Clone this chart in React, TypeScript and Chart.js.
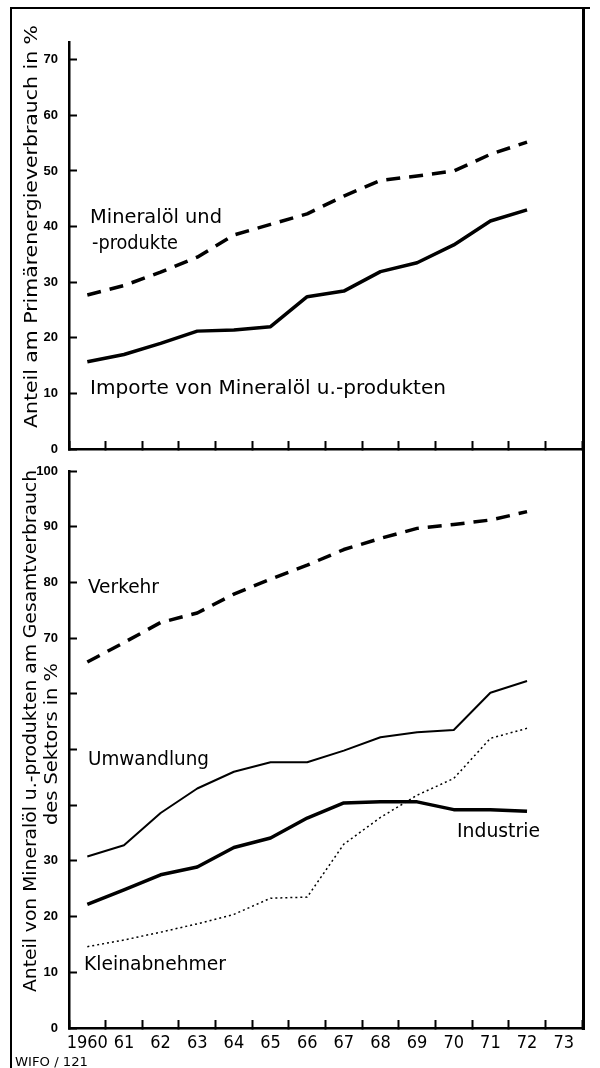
import React, { useEffect, useRef } from "react";
import { Chart, registerables } from "chart.js";

Chart.register(...registerables);

// ---------- data ----------
const YEAR_LABELS = ["1960", "61", "62", "63", "64", "65", "66", "67", "68", "69", "70", "71", "72", "73"];
const TOP_Y_TICKS = [0, 10, 20, 30, 40, 50, 60, 70];
const BOTTOM_Y_TICKS = [0, 10, 20, 30, 40, 50, 60, 70, 80, 90, 100];
// labels hidden under the second line of the lower axis title
const BOTTOM_Y_HIDDEN_LABELS = [40, 50, 60];

// upper panel: Anteil am Primärenergieverbrauch in %
const mineraloelUndProdukte = [27.7, 29.4, 31.8, 34.5, 38.5, 40.4, 42.3, 45.5, 48.3, 49.1, 50.0, 53.0, 55.2];
const importeMineraloel = [15.7, 17.0, 19.0, 21.2, 21.4, 22.0, 27.4, 28.4, 31.9, 33.5, 36.7, 41.0, 43.0];

// lower panel: Anteil am Gesamtverbrauch des Sektors in %
const verkehr = [65.7, 69.2, 72.8, 74.5, 77.9, 80.6, 83.1, 85.9, 87.9, 89.7, 90.4, 91.2, 92.7];
const umwandlung = [30.8, 32.8, 38.6, 43.0, 46.0, 47.7, 47.7, 49.8, 52.2, 53.1, 53.5, 60.2, 62.3];
const industrie = [22.2, 24.8, 27.5, 28.9, 32.4, 34.1, 37.7, 40.4, 40.6, 40.6, 39.2, 39.2, 38.9];
const kleinabnehmer = [14.6, 15.8, 17.2, 18.7, 20.4, 23.3, 23.5, 33.0, 37.8, 41.8, 44.8, 52.0, 53.8];

const NARROW = '"Liberation Sans Narrow", "DejaVu Sans Condensed", "Liberation Sans", sans-serif';

type TextItem = { text: string; x: number; y: number; w: number; size: number; rotated?: boolean };

const TOP_TEXTS: TextItem[] = [
  { text: "Mineralöl und", x: 90, y: 223, w: 132, size: 20 },
  { text: "-produkte", x: 92, y: 249, w: 86, size: 20 },
  { text: "Importe von Mineralöl u.-produkten", x: 90, y: 394, w: 356, size: 20 },
  { text: "Anteil am Primärenergieverbrauch in %", x: 37, y: 428, w: 403, size: 18, rotated: true },
];

const BOTTOM_TEXTS: TextItem[] = [
  { text: "Verkehr", x: 88, y: 593, w: 71, size: 20 },
  { text: "Umwandlung", x: 88, y: 765, w: 121, size: 20 },
  { text: "Industrie", x: 457, y: 837, w: 83, size: 20 },
  { text: "Kleinabnehmer", x: 84, y: 970, w: 142, size: 20 },
  { text: "Anteil von Mineralöl u.-produkten am Gesamtverbrauch", x: 36, y: 992, w: 522, size: 18, rotated: true },
  { text: "des Sektors in %", x: 57, y: 825, w: 162, size: 18, rotated: true },
  { text: "WIFO / 121", x: 15, y: 1066, w: 73, size: 13 },
];

function fitText(ctx: CanvasRenderingContext2D, t: TextItem, offsetY: number) {
  ctx.save();
  ctx.font = `${t.size}px ${NARROW}`;
  ctx.fillStyle = "#000";
  ctx.textBaseline = "alphabetic";
  ctx.textAlign = "left";
  const w = ctx.measureText(t.text).width;
  ctx.translate(t.x, t.y - offsetY);
  if (t.rotated) ctx.rotate(-Math.PI / 2);
  ctx.scale(t.w / w, 1);
  ctx.fillText(t.text, 0, 0);
  ctx.restore();
}

function textPlugin(items: TextItem[], offsetY: number) {
  return {
    id: "texts",
    afterDraw(chart: any) {
      const ctx = chart.ctx as CanvasRenderingContext2D;
      items.forEach((t) => fitText(ctx, t, offsetY));
    },
  };
}

function lineDs(label: string, data: number[], width: number, dash: number[]) {
  return {
    label,
    data,
    borderColor: "#000",
    backgroundColor: "#000",
    borderWidth: width,
    borderDash: dash,
    borderCapStyle: "butt",
    borderJoinStyle: "round",
    pointRadius: 0,
    tension: 0,
    fill: false,
  };
}

const AXIS_X = 69;

function makeConfig(p: {
  datasets: any[];
  yMax: number;
  yTicks: number[];
  hiddenY: number[];
  padTop: number;
  xHeight: number;
  showXLabels: boolean;
  texts: TextItem[];
  offsetY: number;
}) {
  return {
    type: "line",
    data: { labels: YEAR_LABELS, datasets: p.datasets },
    options: {
      animation: false,
      responsive: false,
      devicePixelRatio: 1,
      layout: { padding: { left: 0, right: 18, top: p.padTop, bottom: 0 } },
      plugins: { legend: { display: false }, tooltip: { enabled: false }, title: { display: false } },
      scales: {
        x: {
          type: "category",
          offset: true,
          grid: {
            display: true,
            offset: true,
            drawOnChartArea: false,
            drawTicks: true,
            tickLength: -8,
            tickWidth: 2,
            tickColor: "#000",
          },
          border: { display: true, color: "#000", width: 2.5 },
          ticks: {
            display: p.showXLabels,
            padding: 13,
            color: "#000",
            maxRotation: 0,
            autoSkip: false,
            font: { family: NARROW, size: 18 },
          },
          afterFit: (s: any) => {
            s.height = p.xHeight;
            s.paddingLeft = 0;
            s.paddingRight = 0;
            s.paddingTop = 0;
            s.paddingBottom = 0;
          },
        },
        y: {
          type: "linear",
          min: 0,
          max: p.yMax,
          afterBuildTicks: (s: any) => {
            s.ticks = p.yTicks.map((v) => ({ value: v }));
          },
          grid: {
            display: true,
            drawOnChartArea: false,
            drawTicks: true,
            tickLength: -8,
            tickWidth: 2,
            tickColor: "#000",
          },
          border: { display: true, color: "#000", width: 2.5 },
          ticks: {
            padding: 19,
            color: "#000",
            font: { family: '"Liberation Sans", "DejaVu Sans", sans-serif', size: 13, weight: "bold" },
            callback: (v: number) => (p.hiddenY.includes(v) ? "" : String(v)),
          },
          afterFit: (s: any) => {
            s.width = AXIS_X;
            s.paddingLeft = 0;
            s.paddingRight = 0;
            s.paddingTop = 0;
            s.paddingBottom = 0;
          },
        },
      },
    },
    plugins: [textPlugin(p.texts, p.offsetY)],
  } as any;
}

export default function App() {
  const topRef = useRef<HTMLCanvasElement>(null);
  const bottomRef = useRef<HTMLCanvasElement>(null);

  useEffect(() => {
    const top = new Chart(
      topRef.current!,
      makeConfig({
        datasets: [
          lineDs("Mineralöl und -produkte", mineraloelUndProdukte, 3.5, [14, 9]),
          lineDs("Importe von Mineralöl u.-produkten", importeMineraloel, 3.5, []),
        ],
        yMax: 73.2,
        yTicks: TOP_Y_TICKS,
        hiddenY: [],
        padTop: 42,
        xHeight: 11,
        showXLabels: false,
        texts: TOP_TEXTS,
        offsetY: 0,
      })
    );
    const bottom = new Chart(
      bottomRef.current!,
      makeConfig({
        datasets: [
          lineDs("Verkehr", verkehr, 3.5, [14, 9]),
          lineDs("Umwandlung", umwandlung, 2, []),
          lineDs("Industrie", industrie, 3.5, []),
          lineDs("Kleinabnehmer", kleinabnehmer, 1.5, [2, 3]),
        ],
        yMax: 100,
        yTicks: BOTTOM_Y_TICKS,
        hiddenY: BOTTOM_Y_HIDDEN_LABELS,
        padTop: 11,
        xHeight: 40,
        showXLabels: true,
        texts: BOTTOM_TEXTS,
        offsetY: 460,
      })
    );
    return () => {
      top.destroy();
      bottom.destroy();
    };
  }, []);

  const line = (left: number, top: number, width: number, height: number) => (
    <div style={{ position: "absolute", left, top, width, height, background: "#000" }} />
  );

  return (
    <div style={{ position: "absolute", left: 0, top: 0, width: 600, height: 1068, background: "#fff", overflow: "hidden" }}>
      <canvas ref={topRef} width={600} height={460} style={{ position: "absolute", left: 0, top: 0, display: "block" }} />
      <canvas ref={bottomRef} width={600} height={608} style={{ position: "absolute", left: 0, top: 460, display: "block" }} />
      {line(10, 7, 2, 1061)}
      {line(10, 7, 580, 2)}
      {line(582, 7, 3, 1023)}
    </div>
  );
}
